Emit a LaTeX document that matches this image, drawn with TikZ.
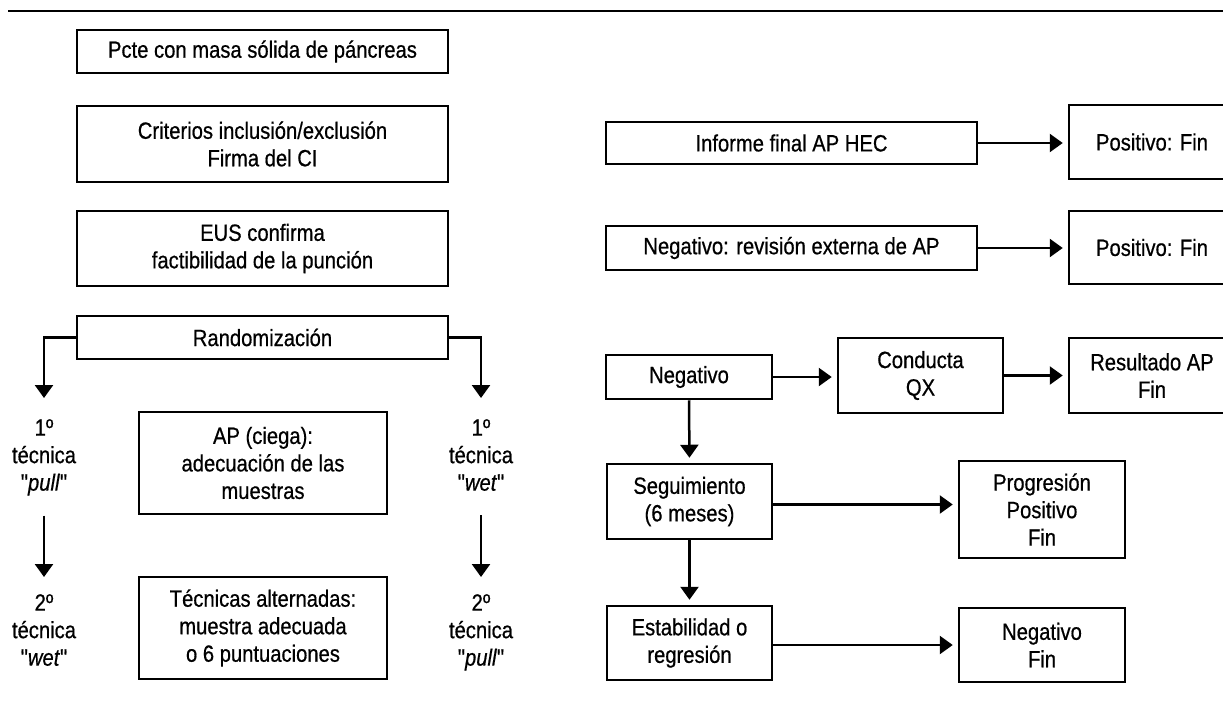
\documentclass[tikz,border=0pt]{standalone}
\usepackage{fontspec}
\setmainfont[FakeStretch=0.86, FakeBold=0.6, Ligatures=TeXOff]{Liberation Sans}
\usetikzlibrary{arrows.meta}

\tikzset{
	caja/.style={draw, line width=2.5pt, align=center, inner sep=0pt, font=\fontsize{23.5}{27.5}\selectfont},
	tecnica/.style={align=center, inner sep=0pt, font=\fontsize{23.5}{27.5}\selectfont},
	flecha/.style={-{Triangle[width=18pt,length=13pt]}, line width=2.5pt, shorten >=5pt}
}

\begin{document}
\begin{tikzpicture}[x=1pt, y=-1pt]
	
	\clip (0,0) rectangle (1223,710);
	\fill[white] (0,0) rectangle (1223,710);
	
	\draw[line width=2pt] (8,11) -- (1223,11);
	
	% columna izquierda
	\node[caja, minimum width=371pt, minimum height=43pt] (pcte) at (262.5,51.5) {Pcte con masa sólida de páncreas};
	\node[caja, minimum width=371pt, minimum height=76pt] (crit) at (262.5,144) {Criterios inclusión/exclusión\\Firma del CI};
	\node[caja, minimum width=371pt, minimum height=75pt] (eus) at (262.5,248.5) {EUS confirma\\factibilidad de la punción};
	\node[caja, minimum width=371pt, minimum height=43pt] (rand) at (262.5,337.5) {Randomización};
	
	\node[caja, minimum width=248pt, minimum height=102pt] (apc) at (263,463) {AP (ciega):\\adecuación de las\\muestras};
	\node[caja, minimum width=248pt, minimum height=102pt] (alt) at (263,628) {Técnicas alternadas:\\muestra adecuada\\o 6 puntuaciones};
	
	\node[tecnica, anchor=north] (pull1) at (44,419) {1º\\técnica\\"\textit{pull}"};
	\node[tecnica, anchor=north] (wet2) at (44,594) {2º\\técnica\\"\textit{wet}"};
	\node[tecnica, anchor=north] (wet1) at (481,419) {1º\\técnica\\"\textit{wet}"};
	\node[tecnica, anchor=north] (pull2) at (481,594) {2º\\técnica\\"\textit{pull}"};
	
	\draw[flecha, shorten >=21pt] (rand.west) -| (pull1.north);
	\draw[flecha, shorten >=21pt] (rand.east) -| (wet1.north);
	\draw[flecha, shorten <=20pt, shorten >=17pt] (pull1.south) -- (wet2.north);
	\draw[flecha, shorten <=24pt, shorten >=17pt] (wet1.south) -- (pull2.north);
	
	% columna derecha
	\node[caja, minimum width=371pt, minimum height=42pt] (inf) at (791.5,143) {Informe final AP HEC};
	\node[caja, minimum width=166pt, minimum height=74pt] (posA) at (1152,142) {Positivo: Fin};
	\node[caja, minimum width=371pt, minimum height=44pt] (rev) at (791.5,248) {Negativo: revisión externa de AP};
	\node[caja, minimum width=166pt, minimum height=73pt] (posB) at (1152,247.5) {Positivo: Fin};
	
	\node[caja, minimum width=166pt, minimum height=44pt] (neg) at (689,377) {Negativo};
	\node[caja, minimum width=165pt, minimum height=75pt] (cond) at (920.5,375.5) {Conducta\\QX};
	\node[caja, minimum width=166pt, minimum height=75pt] (res) at (1152,375.5) {Resultado AP\\Fin};
	\node[caja, minimum width=165pt, minimum height=75pt] (seg) at (689.5,501.5) {Seguimiento\\(6 meses)};
	\node[caja, minimum width=166pt, minimum height=97pt] (prog) at (1042,509.5) {Progresión\\Positivo\\Fin};
	\node[caja, minimum width=165pt, minimum height=74pt] (est) at (689.5,643) {Estabilidad o\\regresión};
	\node[caja, minimum width=166pt, minimum height=74pt] (negfin) at (1042,645) {Negativo\\Fin};
	
	\draw[flecha] (inf.east) -- (inf.east -| posA.west);
	\draw[flecha] (rev.east) -- (rev.east -| posB.west);
	\draw[flecha] (neg.east) -- (neg.east -| cond.west);
	\draw[flecha] (cond.east) -- (cond.east -| res.west);
	\draw[flecha] (neg.south) -- (seg.north);
	\draw[flecha] (seg.south) -- (est.north);
	\draw[flecha] ([yshift=-3pt]seg.east) -- ([yshift=-3pt]seg.east -| prog.west);
	\draw[flecha] ([yshift=-2pt]est.east) -- ([yshift=-2pt]est.east -| negfin.west);
	
\end{tikzpicture}
\end{document}
